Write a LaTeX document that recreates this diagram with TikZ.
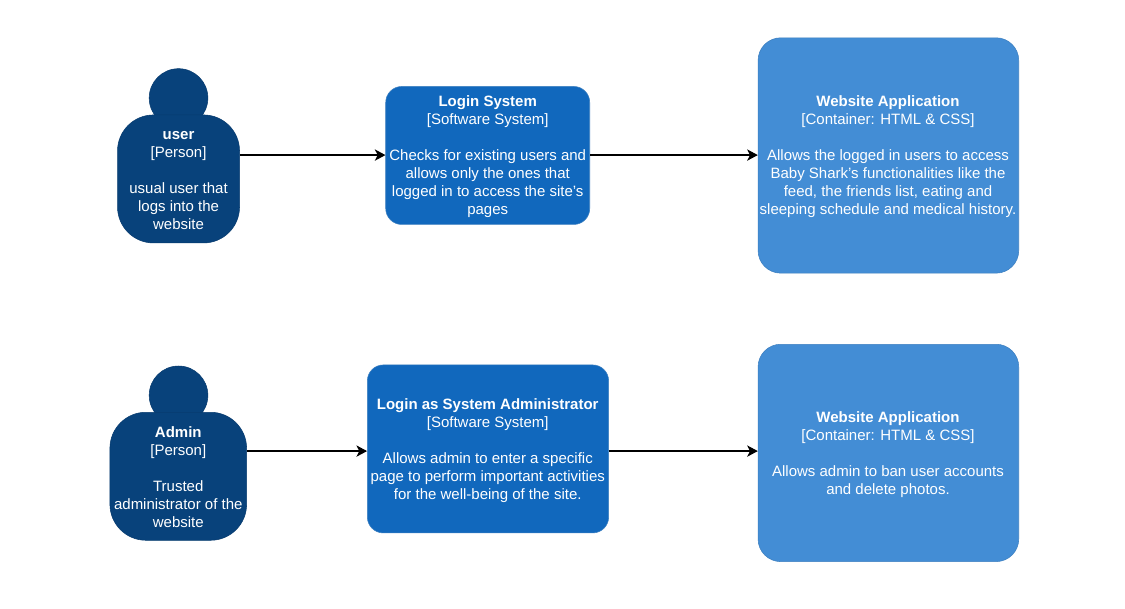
\documentclass[tikz,border=0pt]{standalone}
\usepackage{fontspec}
\setmainfont{Liberation Sans}
\usetikzlibrary{arrows.meta}
\definecolor{persondark}{HTML}{08427B}
\definecolor{persondraw}{HTML}{073B6F}
\definecolor{sysblue}{HTML}{1168BD}
\definecolor{sysdraw}{HTML}{3C7FC0}
\definecolor{contblue}{HTML}{438DD5}
\definecolor{contdraw}{HTML}{3C7FC0}
\tikzset{x=1pt,y=-1pt,
 boxbase/.style={anchor=center,inner sep=0pt,text=white,align=center,font=\fontsize{11.25}{13.5}\selectfont},
 personbox/.style={boxbase,fill=persondark,draw=persondraw,line width=0.4pt,rounded corners=27pt},
 personhead/.style={circle,fill=persondark,draw=persondraw,line width=0.4pt,inner sep=0pt,minimum size=44pt},
 systembox/.style={boxbase,fill=sysblue,draw=sysdraw,line width=0.4pt,rounded corners=12pt},
 containerbox/.style={boxbase,fill=contblue,draw=contdraw,line width=0.4pt,rounded corners=17pt},
 labeltext/.style={boxbase},
 conn/.style={draw=black,line width=0.9pt,-{Stealth[length=8pt,width=8.5pt,inset=2.2pt]}}
}
\begin{document}
\begin{tikzpicture}
\useasboundingbox[fill=white] (0,0) rectangle (843.75,456);
% first row
\node[personhead] (h1) at (133.9,73.5) {};
\node[personbox,minimum width=91.5pt,minimum height=96pt] (p1) at (133.9,134.2) {};
\node[labeltext] (p1t) at (133.9,135.3) {\textbf{user}\\{}[Person]\\[13.5pt]usual user that\\logs into the\\website};
\node[systembox,minimum width=153pt,minimum height=103.5pt] (s1) at (365.8,116.6) {};
\node[labeltext] (s1t) at (365.8,117.4) {\textbf{Login System}\\{}[Software System]\\[13.5pt]Checks for existing users and\\allows only the ones that\\logged in to access the site's\\pages};
\node[containerbox,minimum width=195.5pt,minimum height=176.5pt] (c1) at (666.3,116.6) {};
\node[labeltext] (c1t) at (666,117.4) {\textbf{Website Application}\\{}[Container: HTML \& CSS]\\[13.5pt]Allows the logged in users to access\\Baby Shark's functionalities like the\\feed, the friends list, eating and\\sleeping schedule and medical history.};
% second row
\node[personhead] (h2) at (133.9,296.5) {};
\node[personbox,minimum width=102.5pt,minimum height=96pt] (p2) at (133.7,357.2) {};
\node[labeltext] (p2t) at (133.7,357.7) {\textbf{Admin}\\{}[Person]\\[13.5pt]Trusted\\administrator of the\\website};
\node[systembox,minimum width=181pt,minimum height=126pt] (s2) at (366,336.7) {};
\node[labeltext] (s2t) at (365.8,338.3) {\textbf{Login as System Administrator}\\{}[Software System]\\[13.5pt]Allows admin to enter a specific\\page to perform important activities\\for the well-being of the site.};
\node[containerbox,minimum width=195.5pt,minimum height=163pt] (c2) at (666.3,339.7) {};
\node[labeltext] (c2t) at (666,340.8) {\textbf{Website Application}\\{}[Container: HTML \& CSS]\\[13.5pt]Allows admin to ban user accounts\\and delete photos.};
\coordinate (row1) at (0,116.3);
\coordinate (row2) at (0,338.3);
\draw[conn] (p1.east |- row1) -- (s1.west |- row1);
\draw[conn] (s1.east |- row1) -- (c1.west |- row1);
\draw[conn] (p2.east |- row2) -- (s2.west |- row2);
\draw[conn] (s2.east |- row2) -- (c2.west |- row2);
\end{tikzpicture}
\end{document}
